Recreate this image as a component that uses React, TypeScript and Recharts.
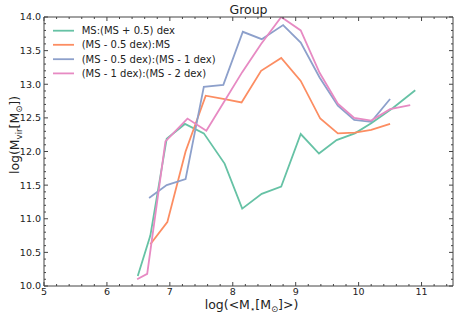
import React from 'react';
import { LineChart, Line, XAxis, YAxis } from 'recharts';

const seriesNames = [
  'MS:(MS + 0.5) dex',
  '(MS - 0.5 dex):MS',
  '(MS - 0.5 dex):(MS - 1 dex)',
  '(MS - 1 dex):(MS - 2 dex)',
];
const seriesColors = ['#66c2a5', '#fc8d62', '#8da0cb', '#e78ac3'];

const greenX = [6.49, 6.69, 6.95, 7.24, 7.54, 7.87, 8.15, 8.46, 8.77, 9.08, 9.37, 9.65, 9.94, 10.2, 10.55, 10.9];
const greenY = [10.15, 10.75, 12.19, 12.41, 12.27, 11.82, 11.15, 11.37, 11.48, 12.26, 11.97, 12.17, 12.27, 12.42, 12.65, 12.91];

const orangeX = [6.69, 6.96, 7.25, 7.57, 7.87, 8.14, 8.45, 8.77, 9.08, 9.39, 9.67, 9.94, 10.2, 10.5];
const orangeY = [10.62, 10.95, 12.0, 12.83, 12.78, 12.73, 13.2, 13.39, 13.05, 12.49, 12.27, 12.28, 12.32, 12.41];

const blueX = [6.67, 6.95, 7.25, 7.54, 7.85, 8.16, 8.46, 8.8, 9.08, 9.38, 9.67, 9.93, 10.2, 10.5];
const blueY = [11.31, 11.5, 11.59, 12.96, 12.99, 13.78, 13.67, 13.88, 13.62, 13.1, 12.68, 12.47, 12.44, 12.78];

const pinkX = [6.48, 6.64, 6.93, 7.28, 7.58, 7.85, 8.15, 8.45, 8.77, 9.08, 9.38, 9.67, 9.93, 10.2, 10.5, 10.82];
const pinkY = [10.1, 10.18, 12.15, 12.49, 12.31, 12.72, 13.18, 13.6, 14.0, 13.8, 13.17, 12.71, 12.5, 12.46, 12.63, 12.69];

const xMajorTicks = [5, 6, 7, 8, 9, 10, 11];
const yMajorTicks = [10, 10.5, 11, 11.5, 12, 12.5, 13, 13.5, 14];

const X_DOMAIN: [number, number] = [5, 11.5];
const Y_DOMAIN: [number, number] = [10, 14];

// minor ticks every 0.2 on x, 0.1 on y
const xTicks: number[] = [];
for (let i = 0; i <= 32; i++) xTicks.push(+(5 + i * 0.2).toFixed(2));
const yTicks: number[] = [];
for (let i = 0; i <= 40; i++) yTicks.push(+(10 + i * 0.1).toFixed(2));

const toPoints = (xs: number[], ys: number[]) => xs.map((x, i) => ({ x, y: ys[i] }));

const series = [
  toPoints(greenX, greenY),
  toPoints(orangeX, orangeY),
  toPoints(blueX, blueY),
  toPoints(pinkX, pinkY),
];

const FONT = 'DejaVu Sans';
const FRAME = '#444';
const TEXT = '#222';
const MAJOR = 4;
const MINOR = 2;

const isMajorX = (v: number) => xMajorTicks.some((t) => Math.abs(t - v) < 1e-6);
const isMajorY = (v: number) => yMajorTicks.some((t) => Math.abs(t - v) < 1e-6);

const BottomTick = ({ x, y, payload }: any) => {
  const major = isMajorX(payload.value);
  return (
    <g>
      <line x1={x} x2={x} y1={y} y2={y - (major ? MAJOR : MINOR)} stroke={FRAME} strokeWidth={1} />
      {major && (
        <text x={x} y={y + 9} textAnchor="middle" fontSize={9.5} fontFamily={FONT} fill={TEXT}>
          {payload.value}
        </text>
      )}
    </g>
  );
};

const TopTick = ({ x, y, payload }: any) => {
  const major = isMajorX(payload.value);
  return <line x1={x} x2={x} y1={y} y2={y + (major ? MAJOR : MINOR)} stroke={FRAME} strokeWidth={1} />;
};

const LeftTick = ({ x, y, payload }: any) => {
  const major = isMajorY(payload.value);
  return (
    <g>
      <line x1={x} x2={x + (major ? MAJOR : MINOR)} y1={y} y2={y} stroke={FRAME} strokeWidth={1} />
      {major && (
        <text x={x - 3} y={y + 3.4} textAnchor="end" fontSize={9.5} fontFamily={FONT} fill={TEXT}>
          {payload.value.toFixed(1)}
        </text>
      )}
    </g>
  );
};

const RightTick = ({ x, y, payload }: any) => {
  const major = isMajorY(payload.value);
  return <line x1={x} x2={x - (major ? MAJOR : MINOR)} y1={y} y2={y} stroke={FRAME} strokeWidth={1} />;
};

const legendRows = [30.7, 44.8, 59.2, 73.4];

const Overlay = () => (
  <svg
    width={457}
    height={318}
    style={{ position: 'absolute', left: 0, top: 0, pointerEvents: 'none' }}
    fontFamily={FONT}
  >
    <text x={248.5} y={14} textAnchor="middle" fontSize={12.5} fill={TEXT}>
      Group
    </text>
    <text x={251.5} y={309} textAnchor="middle" fontSize={12.5} fill={TEXT}>
      log(&lt;M
      <tspan fontSize={8.5} dy={2.5}>⋆</tspan>
      <tspan dy={-2.5}>[M</tspan>
      <tspan fontSize={8.5} dy={2.5}>⊙</tspan>
      <tspan dy={-2.5}>]&gt;)</tspan>
    </text>
    <text
      x={19}
      y={135}
      textAnchor="middle"
      fontSize={12.5}
      fill={TEXT}
      transform="rotate(-90, 19, 135)"
    >
      log(M
      <tspan fontSize={8.5} dy={2.5}>vir</tspan>
      <tspan dy={-2.5}>[M</tspan>
      <tspan fontSize={8.5} dy={2.5}>⊙</tspan>
      <tspan dy={-2.5}>])</tspan>
    </text>
    {seriesNames.map((name, i) => (
      <g key={name}>
        <line x1={53} x2={74} y1={legendRows[i]} y2={legendRows[i]} stroke={seriesColors[i]} strokeWidth={1.8} />
        <text x={81.7} y={legendRows[i] + 3.6} fontSize={10} fill={TEXT}>
          {name}
        </text>
      </g>
    ))}
  </svg>
);

export default function App() {
  return (
    <div style={{ position: 'absolute', left: 0, top: 0, width: 457, height: 318, background: '#fff' }}>
      <LineChart width={457} height={318} margin={{ top: 16, right: 3, bottom: 31, left: 43 }}>
        <XAxis
          type="number"
          dataKey="x"
          domain={X_DOMAIN}
          allowDataOverflow
          ticks={xTicks}
          interval={0}
          height={1}
          tickSize={0}
          tickMargin={0}
          tickLine={false}
          axisLine={{ stroke: FRAME, strokeWidth: 1 }}
          tick={<BottomTick />}
        />
        <XAxis
          xAxisId="top"
          orientation="top"
          type="number"
          dataKey="x"
          domain={X_DOMAIN}
          allowDataOverflow
          ticks={xTicks}
          interval={0}
          height={1}
          tickSize={0}
          tickMargin={0}
          tickLine={false}
          axisLine={{ stroke: FRAME, strokeWidth: 1 }}
          tick={<TopTick />}
        />
        <YAxis
          type="number"
          domain={Y_DOMAIN}
          allowDataOverflow
          ticks={yTicks}
          interval={0}
          width={1}
          tickSize={0}
          tickMargin={0}
          tickLine={false}
          axisLine={{ stroke: FRAME, strokeWidth: 1 }}
          tick={<LeftTick />}
        />
        <YAxis
          yAxisId="right"
          orientation="right"
          type="number"
          domain={Y_DOMAIN}
          allowDataOverflow
          ticks={yTicks}
          interval={0}
          width={1}
          tickSize={0}
          tickMargin={0}
          tickLine={false}
          axisLine={{ stroke: FRAME, strokeWidth: 1 }}
          tick={<RightTick />}
        />
        {series.map((data, i) => (
          <Line
            key={seriesNames[i]}
            data={data}
            dataKey="y"
            name={seriesNames[i]}
            type="linear"
            stroke={seriesColors[i]}
            strokeWidth={1.8}
            dot={false}
            activeDot={false}
            isAnimationActive={false}
          />
        ))}
      </LineChart>
      <Overlay />
    </div>
  );
}
